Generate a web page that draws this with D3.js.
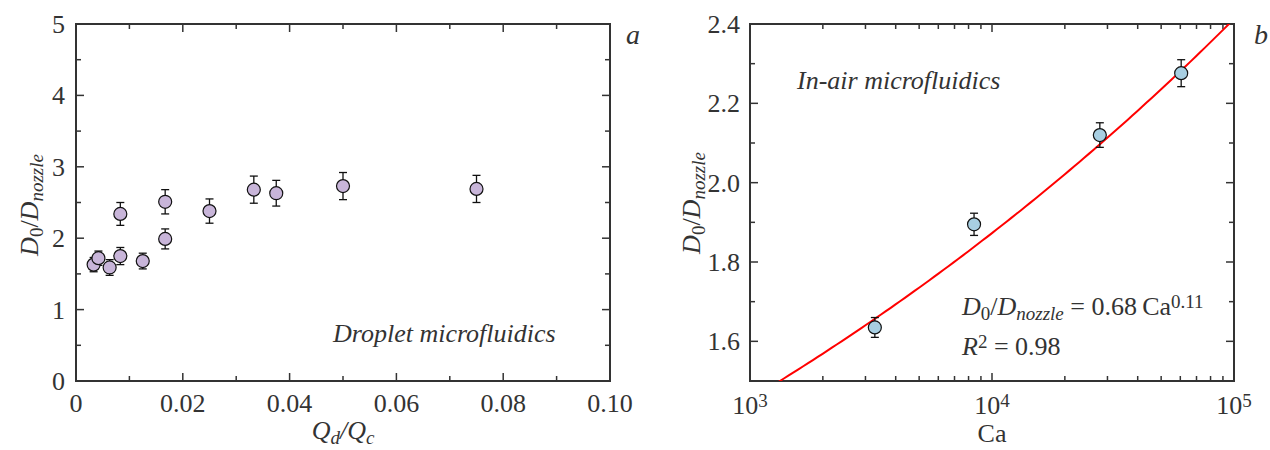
<!DOCTYPE html>
<html>
<head>
<meta charset="utf-8">
<script src="https://cdn.jsdelivr.net/npm/d3@7"></script>
</head>
<body style="margin:0;background:#fff">
<svg id="chart" width="1270" height="450"></svg>
<script>
// panel a: droplet microfluidics
var ratioQ = [0.0033, 0.0042, 0.0063, 0.0083, 0.0083, 0.0125, 0.0167, 0.0167, 0.025, 0.0333, 0.0375, 0.05, 0.075];
var sizeA  = [1.63, 1.72, 1.59, 1.75, 2.34, 1.68, 1.99, 2.51, 2.38, 2.68, 2.63, 2.73, 2.69];
var errA   = [0.10, 0.10, 0.11, 0.12, 0.16, 0.11, 0.14, 0.17, 0.17, 0.19, 0.18, 0.19, 0.19];

// panel b: in-air microfluidics
var capNum = [3280, 8430, 27900, 60500];
var sizeB  = [1.635, 1.895, 2.12, 2.276];
var errB   = [0.025, 0.028, 0.031, 0.034];

// fit D0/Dnozzle = 0.68 Ca^0.11
var fitCoef = 0.68, fitExp = 0.11;

var xTicksA = [0, 0.02, 0.04, 0.06, 0.08, 0.10];
var yTicksA = [0, 1, 2, 3, 4, 5];
var yTicksB = [1.6, 1.8, 2.0, 2.2, 2.4];
var xTicksB = [3, 4, 5]; // powers of ten

var FONT = "'Liberation Serif', 'Times New Roman', serif";
var svg = d3.select("#chart")
    .attr("font-family", FONT)
    .style("display", "block");
var axisColor = "#333";
var textColor = "#333";

function frame(g, w, h) {
    g.append("rect")
        .attr("width", w).attr("height", h)
        .attr("fill", "none")
        .attr("stroke", axisColor)
        .attr("stroke-width", 2);
}

// inward ticks on all four sides
function ticks(g, vals, scale, len, horiz, w, h) {
    vals.forEach(function(v) {
        var p = scale(v);
        if (horiz) {
            g.append("line").attr("x1", p).attr("x2", p).attr("y1", h).attr("y2", h - len);
            g.append("line").attr("x1", p).attr("x2", p).attr("y1", 0).attr("y2", len);
        } else {
            g.append("line").attr("y1", p).attr("y2", p).attr("x1", 0).attr("x2", len);
            g.append("line").attr("y1", p).attr("y2", p).attr("x1", w).attr("x2", w - len);
        }
    });
    g.selectAll("line").attr("stroke", axisColor).attr("stroke-width", 1.5);
}

function points(g, xs, ys, es, x, y, fill, r) {
    var tg = g.append("g");
    xs.forEach(function(xv, i) {
        var cx = x(xv), t = y(ys[i] + es[i]), b = y(ys[i] - es[i]);
        tg.append("line").attr("x1", cx).attr("x2", cx).attr("y1", t).attr("y2", b);
        tg.append("line").attr("x1", cx - 4).attr("x2", cx + 4).attr("y1", t).attr("y2", t);
        tg.append("line").attr("x1", cx - 4).attr("x2", cx + 4).attr("y1", b).attr("y2", b);
    });
    tg.selectAll("line").attr("stroke", "#111").attr("stroke-width", 1.3);
    g.selectAll(".pt")
        .data(xs)
        .enter()
        .append("circle")
            .attr("cx", function(d) { return x(d); })
            .attr("cy", function(d, i) { return y(ys[i]); })
            .attr("r", r)
            .attr("fill", fill)
            .attr("stroke", "#111")
            .attr("stroke-width", 1.2);
}

function txt(g, x, y, size) {
    return g.append("text")
        .attr("x", x).attr("y", y)
        .attr("fill", textColor)
        .attr("font-family", FONT)
        .attr("font-size", size);
}

function sub(t, s, italic) {
    var ts = t.append("tspan").attr("baseline-shift", "-25%").attr("font-size", 19).text(s);
    if (italic) ts.attr("font-style", "italic");
}

function sup(t, s) {
    t.append("tspan").attr("baseline-shift", "38%").attr("font-size", 19).text(s);
}

// y axis label D0/Dnozzle
function yLabel(g, x, y) {
    var t = txt(g, 0, 0, 26)
        .attr("transform", "translate(" + x + "," + y + ") rotate(-90)")
        .attr("text-anchor", "middle");
    t.append("tspan").attr("font-style", "italic").text("D");
    sub(t, "0");
    t.append("tspan").text("/");
    t.append("tspan").attr("font-style", "italic").text("D");
    sub(t, "nozzle", true);
}

// ---------------- panel a ----------------
var mA = {left: 76, top: 24, w: 534, h: 357};
var gA = svg.append("g").attr("transform", "translate(" + mA.left + "," + mA.top + ")");
var xA = d3.scaleLinear().domain([0, 0.1]).range([0, mA.w]);
var yA = d3.scaleLinear().domain([0, 5]).range([mA.h, 0]);

var tA = gA.append("g");
ticks(tA, d3.range(0.01, 0.1, 0.02), xA, 5, true, mA.w, mA.h);
ticks(tA, xTicksA.slice(1, -1), xA, 8, true, mA.w, mA.h);
ticks(tA, [0.5, 1.5, 2.5, 3.5, 4.5], yA, 5, false, mA.w, mA.h);
ticks(tA, yTicksA.slice(1, -1), yA, 8, false, mA.w, mA.h);
frame(gA, mA.w, mA.h);

xTicksA.forEach(function(d) {
    txt(gA, xA(d), mA.h + 31, 26)
        .attr("text-anchor", "middle")
        .text(d === 0 ? "0" : d3.format(".2f")(d));
});

yTicksA.forEach(function(d) {
    txt(gA, -11, yA(d) + 9, 26)
        .attr("text-anchor", "end")
        .text(d);
});

points(gA, ratioQ, sizeA, errA, xA, yA, "#c8b5d9", 6.5);

txt(gA, 257, 318, 26).attr("font-style", "italic").text("Droplet microfluidics");
txt(gA, 550, 20, 28).attr("font-style", "italic").text("a");

var qx = txt(gA, mA.w / 2, mA.h + 58, 26)
    .attr("text-anchor", "middle")
    .attr("font-style", "italic");
qx.append("tspan").text("Q");
sub(qx, "d");
qx.append("tspan").text("/Q");
sub(qx, "c");

yLabel(svg, 38, 205);

// ---------------- panel b ----------------
var mB = {left: 750, top: 24, w: 484, h: 357};
var gB = svg.append("g").attr("transform", "translate(" + mB.left + "," + mB.top + ")");
var xB = d3.scaleLog().domain([1e3, 1e5]).range([0, mB.w]);
var yB = d3.scaleLinear().domain([1.5, 2.4]).range([mB.h, 0]);

var minorB = [];
[1e3, 1e4].forEach(function(dec) {
    for (var k = 2; k < 10; k++) minorB.push(dec * k);
});

var tB = gB.append("g");
ticks(tB, minorB, xB, 5, true, mB.w, mB.h);
ticks(tB, [1e4], xB, 8, true, mB.w, mB.h);
ticks(tB, [1.7, 1.9, 2.1, 2.3], yB, 5, false, mB.w, mB.h);
ticks(tB, yTicksB.slice(0, -1), yB, 8, false, mB.w, mB.h);
frame(gB, mB.w, mB.h);

yTicksB.forEach(function(d) {
    txt(gB, -10, yB(d) + 9, 26)
        .attr("text-anchor", "end")
        .text(d.toFixed(1));
});

xTicksB.forEach(function(p) {
    var t = txt(gB, xB(Math.pow(10, p)), mB.h + 33, 26)
        .attr("text-anchor", "middle");
    t.append("tspan").text("10");
    sup(t, p);
});

txt(gB, mB.w / 2, mB.h + 61, 26)
    .attr("text-anchor", "middle")
    .text("Ca");

// fit curve
var fitX = d3.range(3, 5.001, 0.02).map(function(p) { return Math.pow(10, p); });
gB.append("clipPath").attr("id", "clipB")
    .append("rect").attr("width", mB.w).attr("height", mB.h);
gB.append("path")
    .datum(fitX)
    .attr("clip-path", "url(#clipB)")
    .attr("fill", "none")
    .attr("stroke", "#f00")
    .attr("stroke-width", 2)
    .attr("d", d3.line()
        .x(function(d) { return xB(d); })
        .y(function(d) { return yB(fitCoef * Math.pow(d, fitExp)); }));

points(gB, capNum, sizeB, errB, xB, yB, "#a8cfe2", 6.5);

txt(gB, 47, 65, 26).attr("font-style", "italic").text("In-air microfluidics");
txt(gB, 504, 20, 28).attr("font-style", "italic").text("b");

var eq = txt(gB, 212, 291, 26);
eq.append("tspan").attr("font-style", "italic").text("D");
sub(eq, "0");
eq.append("tspan").text("/");
eq.append("tspan").attr("font-style", "italic").text("D");
sub(eq, "nozzle", true);
eq.append("tspan").text(" = 0.68\u2009Ca");
sup(eq, "0.11");

var r2 = txt(gB, 212, 331, 26);
r2.append("tspan").attr("font-style", "italic").text("R");
sup(r2, "2");
r2.append("tspan").text(" = 0.98");

yLabel(svg, 700, 203);
</script>
</body>
</html>
